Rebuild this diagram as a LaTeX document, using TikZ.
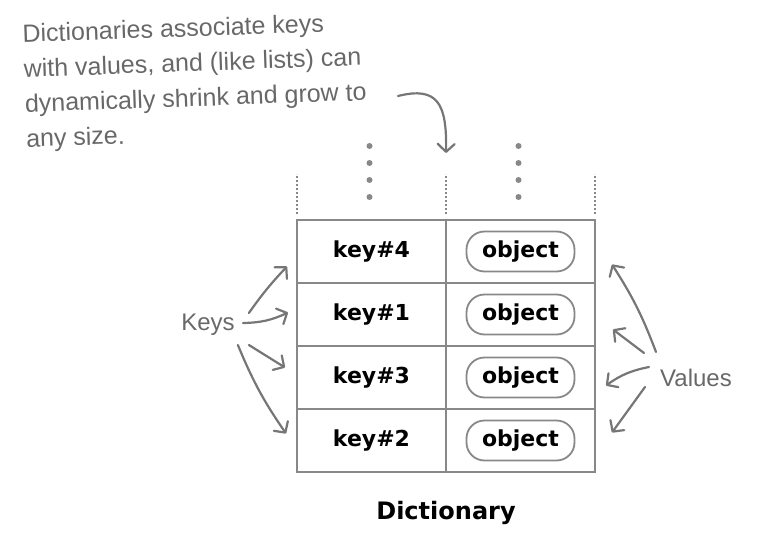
\documentclass[tikz,border=0pt]{standalone}
\usepackage{fontspec}
\setmainfont{DejaVu Sans}
\newfontfamily\handfont{Liberation Sans}
\usepackage{tikz}
\usetikzlibrary{arrows.meta,positioning,calc}
\definecolor{rulegray}{HTML}{888888}
\definecolor{inkgray}{HTML}{767676}
\definecolor{notegray}{HTML}{686868}
\tikzset{
  cell/.style={draw=rulegray,line width=2.4pt,outer sep=0pt,inner sep=0pt,
    minimum width=149pt,minimum height=63pt,font=\fontsize{22}{25}\selectfont\bfseries},
  obj/.style={draw=rulegray,line width=1.8pt,rounded corners=18pt,fill=white,
    minimum width=108pt,minimum height=40pt,inner sep=0pt,
    font=\fontsize{22}{25}\selectfont\bfseries},
  dotline/.style={draw=rulegray,line width=1.6pt,dash pattern=on 1.6pt off 2.4pt},
  dotfill/.style={fill=rulegray},
  hand/.style={draw=inkgray,line width=2.2pt,line cap=round,
    -{Straight Barb[length=8pt,width=17pt,line width=2.2pt,round]}},
  handlab/.style={font=\handfont\fontsize{24}{27}\selectfont,text=notegray,inner sep=2pt},
  notetext/.style={font=\handfont\fontsize{25}{35}\selectfont,text=notegray,
    align=left,inner sep=0pt,rotate=2},
  figcap/.style={font=\fontsize{24}{28}\selectfont\bfseries},
}
\begin{document}
\begin{tikzpicture}[x=1pt,y=-1pt]
  \useasboundingbox (0,0) rectangle (764,541);
  % --- the table: keys left, values right ---
  \node[cell] (k4) at (371.5,251.5) {key\#4};
  \node[cell,below=0pt of k4] (k1) {key\#1};
  \node[cell,below=0pt of k1] (k3) {key\#3};
  \node[cell,below=0pt of k3] (k2) {key\#2};
  \foreach \k in {4,1,3,2}{
    \node[cell,right=0pt of k\k] (v\k) {};
    \node[obj] (o\k) at (v\k) {object};
  }
  % --- open end above the table ---
  \foreach \c in {k4.north west,k4.north east,v4.north east}
    \draw[dotline] ([yshift=6pt]\c) -- ([yshift=46pt]\c);
  \foreach \d in {23,40,57,74}{
    \fill[dotfill] ([shift={(-2pt,\d pt)}]k4.north) circle (3pt);
    \fill[dotfill] ([shift={(-2pt,\d pt)}]v4.north) circle (3pt);
  }
  \node[figcap,below=26pt of k2.south east] (cap) {Dictionary};
  % --- hand-written labels ---
  \node[handlab] (keys) at (208,325) {Keys};
  \node[handlab] (vals) at (696,378) {Values};
  \draw[hand] ([shift={(12,-12)}]keys.east) to[bend left=4] ([shift={(-10,15)}]k4.west);
  \draw[hand] ([shift={(6,-2)}]keys.east) to[bend right=12] ([shift={(-9,-2)}]k1.west);
  \draw[hand] ([shift={(12,20)}]keys.east) -- ([shift={(-12,-10)}]k3.west);
  \draw[hand] ([shift={(1,20)}]keys.east) to[bend right=6] ([shift={(-11,-7)}]k2.west);
  \draw[hand] ([shift={(-2,-26)}]vals.west) to[bend right=6] ([shift={(17,13)}]v4.east);
  \draw[hand] ([shift={(-14,-25)}]vals.west) -- ([shift={(18,15)}]v1.east);
  \draw[hand] ([shift={(-9,-11)}]vals.west) to[bend right=12] ([shift={(11,8)}]v3.east);
  \draw[hand] ([shift={(-13,9)}]vals.west) -- ([shift={(17,-8)}]v2.east);
  % --- the note ---
  \node[notetext,anchor=north west] (note) at (22,24)
    {Dictionaries associate keys\\with values, and (like lists) can\\
     dynamically shrink and grow to\\any size.};
  \coordinate (notetail) at (398,96);
  \draw[hand] (notetail) .. controls (438,86) and (447,104) .. ([yshift=67pt]k4.north east);
\end{tikzpicture}
\end{document}
